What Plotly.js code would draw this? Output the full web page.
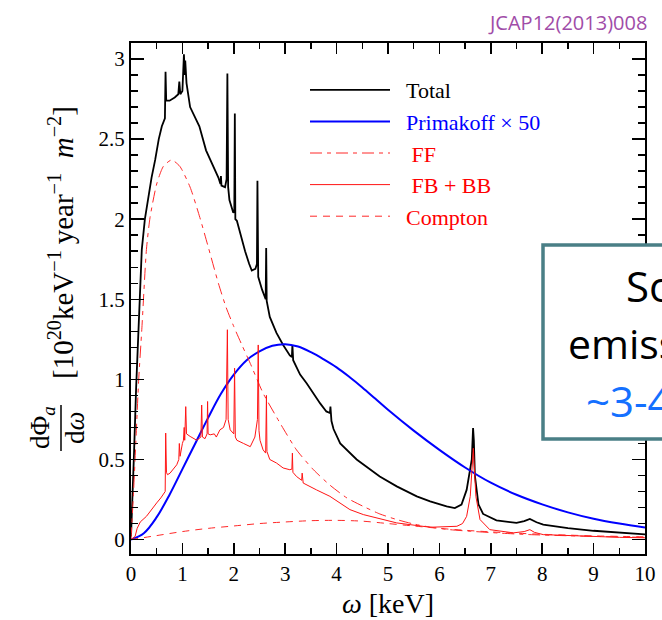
<!DOCTYPE html>
<html>
<head>
<meta charset="utf-8">
<script src="https://cdn.plot.ly/plotly-3.0.1.min.js"></script>
<style>
html,body{margin:0;padding:0;overflow:hidden;background:#fff;}
#chart{width:662px;height:620px;}
</style>
</head>
<body>
<div id="chart"></div>
<script>
// ---- data ----
const totalX = [0.00,0.03,0.06,0.10,0.15,0.21,0.27,0.33,0.40,0.47,0.54,0.60,0.66,0.672,0.685,0.75,0.85,0.92,0.94,0.96,1.00,1.03,1.045,1.055,1.08,1.15,1.21,1.33,1.46,1.60,1.70,1.74,1.75,1.76,1.83,1.86,1.875,1.89,1.915,1.99,2.01,2.02,2.03,2.06,2.155,2.22,2.30,2.35,2.42,2.45,2.46,2.475,2.55,2.62,2.63,2.64,2.70,2.83,2.96,3.09,3.13,3.14,3.155,3.22,3.29,3.42,3.55,3.68,3.80,3.87,3.88,3.90,3.94,4.07,4.39,4.84,5.17,5.56,5.82,6.14,6.30,6.43,6.53,6.58,6.63,6.655,6.67,6.69,6.76,6.85,7.11,7.50,7.65,7.76,7.89,8.02,8.15,8.5,9.0,9.5,10.0];
const totalY = [0.02,0.25,0.55,0.95,1.40,1.81,2.00,2.12,2.26,2.37,2.50,2.58,2.63,2.92,2.74,2.74,2.76,2.78,2.86,2.78,2.80,3.03,2.90,2.99,2.85,2.70,2.66,2.58,2.43,2.33,2.26,2.22,2.27,2.21,2.20,2.25,2.91,2.20,2.12,2.04,2.05,2.66,2.00,1.99,1.87,1.80,1.72,1.68,1.69,1.72,2.24,1.64,1.56,1.50,1.82,1.49,1.39,1.29,1.215,1.15,1.14,1.215,1.12,1.08,1.03,0.975,0.91,0.85,0.80,0.79,0.83,0.74,0.69,0.60,0.50,0.394,0.332,0.27,0.239,0.207,0.197,0.218,0.31,0.415,0.50,0.696,0.62,0.40,0.22,0.16,0.12,0.104,0.115,0.129,0.108,0.093,0.087,0.072,0.055,0.042,0.032];

const primX = [0.00,0.25,0.50,0.75,1.00,1.25,1.50,1.75,2.00,2.25,2.50,2.75,3.00,3.25,3.50,3.75,4.00,4.25,4.50,4.75,5.00,5.50,6.00,6.50,7.00,7.50,8.00,8.50,9.00,9.50,10.0];
const primY = [0.00,0.04,0.14,0.28,0.44,0.60,0.76,0.91,1.03,1.12,1.175,1.21,1.22,1.205,1.17,1.125,1.075,1.015,0.95,0.88,0.81,0.68,0.56,0.45,0.355,0.28,0.22,0.17,0.13,0.10,0.075];

const ffX = [0.00,0.05,0.10,0.15,0.21,0.30,0.37,0.50,0.63,0.79,0.95,1.15,1.34,1.50,1.70,1.85,2.00,2.15,2.32,2.57,2.90,3.22,3.55,3.87,4.20,4.52,4.84,5.17,5.50,5.82,6.20,6.60,7.20,7.76,8.50,9.00,10.0];
const ffY = [0.00,0.30,0.65,1.00,1.31,1.81,2.01,2.22,2.33,2.37,2.33,2.20,2.01,1.83,1.60,1.45,1.33,1.22,1.10,0.914,0.727,0.56,0.436,0.34,0.26,0.207,0.16,0.125,0.097,0.078,0.062,0.052,0.040,0.031,0.024,0.020,0.014];

const fbX = [0.00,0.08,0.12,0.18,0.30,0.40,0.50,0.58,0.63,0.665,0.675,0.69,0.71,0.76,0.89,0.93,0.94,0.955,1.00,1.02,1.035,1.045,1.065,1.08,1.15,1.28,1.36,1.375,1.39,1.44,1.48,1.49,1.50,1.54,1.62,1.66,1.73,1.80,1.85,1.875,1.89,1.93,2.00,2.015,2.03,2.06,2.19,2.32,2.41,2.46,2.475,2.49,2.51,2.57,2.62,2.635,2.645,2.70,2.83,2.96,3.09,3.13,3.14,3.15,3.22,3.32,3.33,3.34,3.35,3.61,3.87,4.26,4.52,5.17,5.82,6.34,6.45,6.53,6.60,6.66,6.71,6.79,6.98,7.44,7.65,7.76,7.85,8.02,8.50,9.00,9.50,10.0];
const fbY = [0.00,0.02,0.07,0.11,0.145,0.19,0.229,0.26,0.28,0.30,0.665,0.42,0.405,0.415,0.467,0.50,0.60,0.52,0.60,0.62,0.70,0.62,0.83,0.66,0.644,0.62,0.64,0.84,0.64,0.63,0.66,0.862,0.66,0.654,0.66,0.64,0.685,0.70,0.75,1.31,0.75,0.685,0.66,1.07,0.64,0.62,0.60,0.58,0.64,0.75,1.215,0.68,0.62,0.56,0.54,0.90,0.55,0.50,0.478,0.447,0.436,0.44,0.54,0.42,0.394,0.37,0.415,0.36,0.353,0.31,0.27,0.187,0.156,0.104,0.077,0.083,0.10,0.145,0.27,0.57,0.27,0.125,0.062,0.042,0.05,0.062,0.045,0.031,0.024,0.018,0.014,0.011];

const compX = [0.0,0.5,1.0,1.5,2.0,2.5,3.0,3.5,4.0,4.5,5.0,5.5,6.0,6.5,7.0,7.5,8.0,8.5,9.0,9.5,10.0];
const compY = [0.0,0.025,0.05,0.07,0.085,0.10,0.11,0.118,0.12,0.115,0.10,0.085,0.07,0.058,0.048,0.04,0.033,0.028,0.023,0.02,0.017];

const seriesNames = ['&nbsp;&nbsp;Total',
  '&nbsp;&nbsp;<span style="color:#0000ff">Primakoff × 50</span>',
  '&nbsp;&nbsp;&nbsp;<span style="color:#ff0000">FF</span>',
  '&nbsp;&nbsp;&nbsp;<span style="color:#ff0000">FB + BB</span>',
  '&nbsp;&nbsp;<span style="color:#ff0000">Compton</span>'];
const xTickVals = [0,1,2,3,4,5,6,7,8,9,10];
const yTickVals = [0,0.5,1,1.5,2,2.5,3];

// ---- geometry helpers (pixel -> paper) ----
const W=662,H=620,ML=131,MR=17,MT=43,MB=66;
const PW=W-ML-MR, PH=H-MT-MB;
const px=(x)=>(x-ML)/PW;
const py=(y)=>(H-MB-y)/PH;

const serif='"Liberation Serif","Times New Roman",serif';
const sans='"Open Sans","Noto Sans",sans-serif';

const traces=[
 {x:totalX,y:totalY,name:seriesNames[0],mode:'lines',line:{color:'#000',width:1.8}},
 {x:primX,y:primY,name:seriesNames[1],mode:'lines',line:{color:'#0000ff',width:2,shape:'spline',smoothing:1}},
 {x:ffX,y:ffY,name:seriesNames[2],mode:'lines',line:{color:'rgb(255,40,40)',width:1,dash:'12px,5px,4px,5px',shape:'spline',smoothing:0.6}},
 {x:fbX,y:fbY,name:seriesNames[3],mode:'lines',line:{color:'rgb(255,20,20)',width:1}},
 {x:compX,y:compY,name:seriesNames[4],mode:'lines',line:{color:'rgb(255,40,40)',width:1,dash:'7px,6px',shape:'spline',smoothing:0.8}}
];

const axisCommon={
  showline:true,linecolor:'#000',linewidth:2,mirror:'ticks',
  ticks:'inside',tickcolor:'#000',tickwidth:1.5,
  showgrid:false,zeroline:false,
  tickfont:{family:serif,size:21,color:'#000'}
};

const layout={
  width:W,height:H,
  margin:{l:ML,r:MR,t:MT,b:MB,pad:0},
  paper_bgcolor:'#fff',plot_bgcolor:'#fff',
  showlegend:true,
  legend:{x:px(305),y:py(69),xanchor:'left',yanchor:'top',bgcolor:'rgba(0,0,0,0)',borderwidth:0,
          font:{family:serif,size:22,color:'#000'},itemwidth:80,tracegroupgap:0},
  xaxis:Object.assign({},axisCommon,{range:[0,10],tickmode:'array',tickvals:xTickVals,ticklen:11,
     minor:{dtick:0.5,ticks:'inside',ticklen:6,tickwidth:1.5,tickcolor:'#000'},
     title:{text:'<i>ω</i> [keV]',font:{family:serif,size:28,color:'#000'},standoff:8}}),
  yaxis:Object.assign({},axisCommon,{range:[-0.09,3.1],tickmode:'array',tickvals:yTickVals,ticklen:13,
     minor:{dtick:0.1,tick0:0,ticks:'inside',ticklen:7,tickwidth:1.5,tickcolor:'#000'}}),
  shapes:[
    {type:'line',xref:'paper',yref:'paper',x0:px(61),x1:px(61),y0:py(451),y1:py(405),line:{color:'#000',width:1.5}},
    {type:'rect',xref:'paper',yref:'paper',x0:px(543),x1:px(720),y0:py(439),y1:py(245),
     line:{color:'#4a7f86',width:3.5},fillcolor:'#fff',layer:'above'}
  ],
  annotations:[
    {xref:'paper',yref:'paper',x:px(61),y:py(243),text:'[10<sup>20</sup>keV<sup>−1</sup>&#8201;year<sup>−1</sup>&#8194;<i>m</i><sup>−2</sup>]',
     textangle:-90,showarrow:false,font:{family:serif,size:29,color:'#000'},xanchor:'center',yanchor:'middle'},
    {xref:'paper',yref:'paper',x:px(42),y:py(428),text:'dΦ<sub><i>a</i></sub>',
     textangle:-90,showarrow:false,font:{family:serif,size:27,color:'#000'},xanchor:'center',yanchor:'middle'},
    {xref:'paper',yref:'paper',x:px(75),y:py(428),text:'d<i>ω</i>',
     textangle:-90,showarrow:false,font:{family:serif,size:27,color:'#000'},xanchor:'center',yanchor:'middle'},
    {xref:'paper',yref:'paper',x:px(567),y:py(22),text:'JCAP12(2013)008',showarrow:false,
     font:{family:sans,size:20,color:'#a04ca8'},xanchor:'center',yanchor:'middle'},
    {xref:'paper',yref:'paper',x:px(624),y:py(285),text:'So',showarrow:false,
     font:{family:sans,size:42,color:'#000'},xanchor:'left',yanchor:'middle'},
    {xref:'paper',yref:'paper',x:px(566),y:py(343),text:'emiss',showarrow:false,
     font:{family:sans,size:41,color:'#000'},xanchor:'left',yanchor:'middle'},
    {xref:'paper',yref:'paper',x:px(584),y:py(400),text:'~3-4',showarrow:false,
     font:{family:sans,size:42,color:'#1470ff'},xanchor:'left',yanchor:'middle'}
  ]
};

Plotly.newPlot('chart',traces,layout,{staticPlot:true,displayModeBar:false});
</script>
</body>
</html>
